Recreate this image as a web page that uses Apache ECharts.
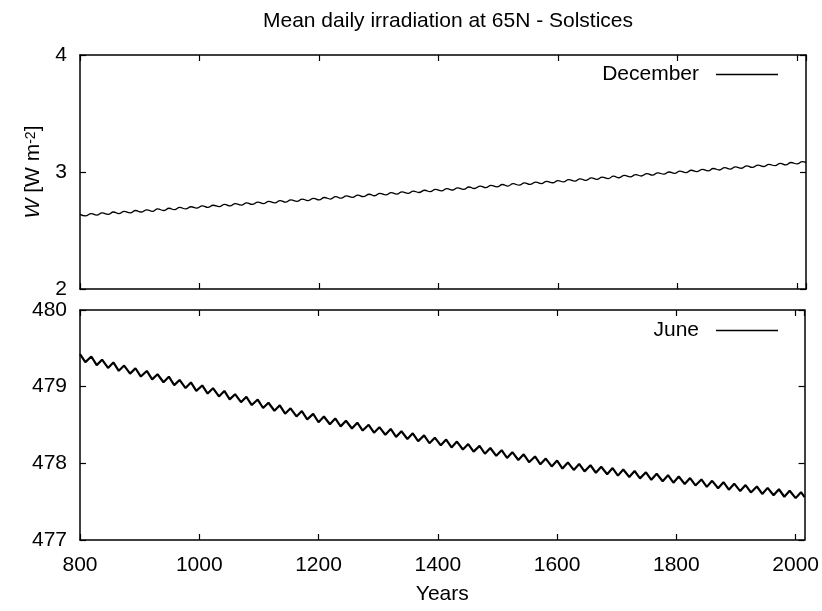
<!DOCTYPE html>
<html>
<head>
<meta charset="utf-8">
<script src="https://cdn.jsdelivr.net/npm/echarts@6/dist/echarts.min.js"></script>
<style>
html,body{margin:0;padding:0;background:#fff;}
#c{width:822px;height:611px;}
</style>
</head>
<body>
<div id="c"></div>
<script>
// ---- data ----
const titleText = 'Mean daily irradiation at 65N - Solstices';
const seriesNames = ['December', 'June'];
const years = [800,809,819,828,837,847,856,865,874,884,893,902,912,921,930,940,949,958,967,977,
986,995,1005,1014,1023,1033,1042,1051,1060,1070,1079,1088,1098,1107,1116,1126,1135,1144,1153,1163,
1172,1181,1191,1200,1209,1219,1228,1237,1246,1256,1265,1274,1284,1293,1302,1312,1321,1330,1339,1349,
1358,1367,1377,1386,1395,1405,1414,1423,1432,1442,1451,1460,1470,1479,1488,1498,1507,1516,1525,1535,
1544,1553,1563,1572,1581,1591,1600,1609,1618,1628,1637,1646,1656,1665,1674,1684,1693,1702,1711,1721,
1730,1739,1749,1758,1767,1777,1786,1795,1804,1814,1823,1832,1842,1851,1860,1870,1879,1888,1897,1907,
1916,1925,1935,1944,1953,1963,1972,1981,1990,2000,2009,2015];
const decemberW = [2.638,2.625,2.644,2.632,2.651,2.638,2.658,2.645,2.664,2.651,
2.671,2.658,2.677,2.664,2.684,2.671,2.690,2.678,2.697,2.684,
2.703,2.691,2.710,2.697,2.716,2.704,2.723,2.710,2.729,2.717,
2.736,2.723,2.742,2.730,2.749,2.736,2.756,2.743,2.762,2.749,
2.769,2.756,2.775,2.762,2.782,2.769,2.789,2.776,2.796,2.783,
2.803,2.790,2.810,2.797,2.817,2.804,2.823,2.811,2.830,2.818,
2.837,2.825,2.844,2.832,2.851,2.839,2.858,2.846,2.865,2.852,
2.872,2.859,2.879,2.866,2.886,2.873,2.893,2.880,2.900,2.887,
2.907,2.894,2.913,2.901,2.920,2.908,2.927,2.915,2.934,2.922,
2.942,2.929,2.949,2.937,2.956,2.944,2.964,2.951,2.971,2.959,
2.978,2.966,2.986,2.973,2.993,2.981,3.000,2.988,3.008,2.995,
3.015,3.003,3.022,3.010,3.030,3.017,3.037,3.025,3.044,3.032,
3.052,3.039,3.059,3.047,3.066,3.054,3.074,3.061,3.081,3.069,
3.088,3.080];
const juneW = [479.425,479.320,479.393,479.281,479.352,479.244,479.316,479.207,479.275,479.170,
479.240,479.132,479.205,479.095,479.162,479.058,479.130,479.020,479.088,478.982,
479.055,478.945,479.016,478.910,478.980,478.872,478.944,478.834,478.902,478.798,
478.868,478.760,478.832,478.722,478.790,478.686,478.757,478.648,478.718,478.612,
478.682,478.574,478.645,478.536,478.611,478.510,478.586,478.482,478.555,478.455,
478.530,478.428,478.503,478.400,478.472,478.373,478.448,478.345,478.418,478.318,
478.392,478.290,478.365,478.262,478.335,478.235,478.310,478.208,478.284,478.180,
478.252,478.153,478.228,478.125,478.200,478.098,478.172,478.070,478.146,478.043,
478.117,478.015,478.090,477.988,478.062,477.960,478.036,477.932,478.012,477.914,
477.992,477.895,477.975,477.877,477.955,477.858,477.938,477.840,477.920,477.822,
477.900,477.804,477.883,477.785,477.864,477.767,477.845,477.748,477.828,477.730,
477.808,477.712,477.790,477.693,477.772,477.675,477.754,477.656,477.735,477.638,
477.716,477.620,477.698,477.601,477.680,477.583,477.662,477.564,477.643,477.546,
477.624,477.560];
const xRange = [800, 2015];
const xStep = 200;
const topYRange = [2, 4];
const bottomYRange = [477, 480];
const yStep = 1;
const xName = 'Years';

// ---- chart ----
const FONT = 'Liberation Sans, Arial, Helvetica, sans-serif';
const FS = 21;
const black = '#000';
const frameLine = {show: true, lineStyle: {color: black, width: 1.5}};
const tickIn = {show: true, inside: true, length: 6, lineStyle: {color: black, width: 1.2}};

function xAx(grid, pos, labels) {
  return {
    type: 'value', gridIndex: grid, position: pos,
    min: xRange[0], max: xRange[1], interval: xStep,
    axisLine: frameLine, axisTick: tickIn, splitLine: {show: false},
    axisLabel: {
      show: labels, margin: 15, color: black, fontFamily: FONT, fontSize: FS,
      showMaxLabel: false,
      formatter: v => (v % xStep === 0 ? String(v) : '')
    },
    name: labels ? xName : '', nameLocation: 'middle', nameGap: 44,
    nameTextStyle: {color: black, fontFamily: FONT, fontSize: FS}
  };
}
function yAx(grid, pos, range, labels, name) {
  return {
    type: 'value', gridIndex: grid, position: pos,
    min: range[0], max: range[1], interval: yStep,
    axisLine: frameLine, axisTick: tickIn, splitLine: {show: false},
    axisLabel: {show: labels, margin: 13, color: black, fontFamily: FONT, fontSize: FS},
    name: name || '', nameLocation: 'middle', nameGap: 36,
    nameTextStyle: {
      color: black, fontFamily: FONT, fontSize: FS,
      rich: {
        it: {fontStyle: 'italic', fontFamily: FONT, fontSize: FS, color: black, lineHeight: 22, verticalAlign: 'bottom'},
        n: {fontFamily: FONT, fontSize: FS, color: black, lineHeight: 22, verticalAlign: 'bottom'},
        sup: {fontFamily: FONT, fontSize: 14, color: black, lineHeight: 14, verticalAlign: 'top', padding: [2, 0, 0, 0]}
      }
    }
  };
}

function legendAt(name, top) {
  return {
    data: [name], right: 44, top: top,
    orient: 'horizontal', align: 'right', padding: 0,
    itemWidth: 62, itemHeight: 1.5, icon: 'rect',
    textStyle: {color: black, fontFamily: FONT, fontSize: FS, padding: [0, 12, 0, 0]},
    itemStyle: {color: black, borderWidth: 0}
  };
}

const chart = echarts.init(document.getElementById('c'), null, {renderer: 'canvas'});
chart.setOption({
  backgroundColor: '#fff',
  animation: false,
  title: {
    text: titleText, left: 443, top: 6, textAlign: 'center',
    textStyle: {color: black, fontFamily: FONT, fontSize: FS, fontWeight: 'normal'}
  },
  legend: [legendAt(seriesNames[0], 64), legendAt(seriesNames[1], 320)],
  grid: [
    {left: 80, right: 16, top: 55, height: 234},
    {left: 80, right: 16, top: 310, height: 230}
  ],
  xAxis: [xAx(0, 'bottom', false), xAx(1, 'bottom', true), xAx(0, 'top', false), xAx(1, 'top', false)],
  yAxis: [
    yAx(0, 'left', topYRange, true, '{it|W}{n| [W m}{sup|-2}{n|]}'),
    yAx(1, 'left', bottomYRange, true),
    yAx(0, 'right', topYRange, false),
    yAx(1, 'right', bottomYRange, false)
  ],
  series: [
    {
      name: seriesNames[0], type: 'line', xAxisIndex: 0, yAxisIndex: 0,
      data: years.map((y, i) => [y, decemberW[i]]),
      symbol: 'none', smooth: 0.5, lineStyle: {color: black, width: 1.3}, itemStyle: {color: black}
    },
    {
      name: seriesNames[1], type: 'line', xAxisIndex: 1, yAxisIndex: 1,
      data: years.map((y, i) => [y, juneW[i]]),
      symbol: 'none', lineStyle: {color: black, width: 2.2}, itemStyle: {color: black}
    }
  ]
});
</script>
</body>
</html>
